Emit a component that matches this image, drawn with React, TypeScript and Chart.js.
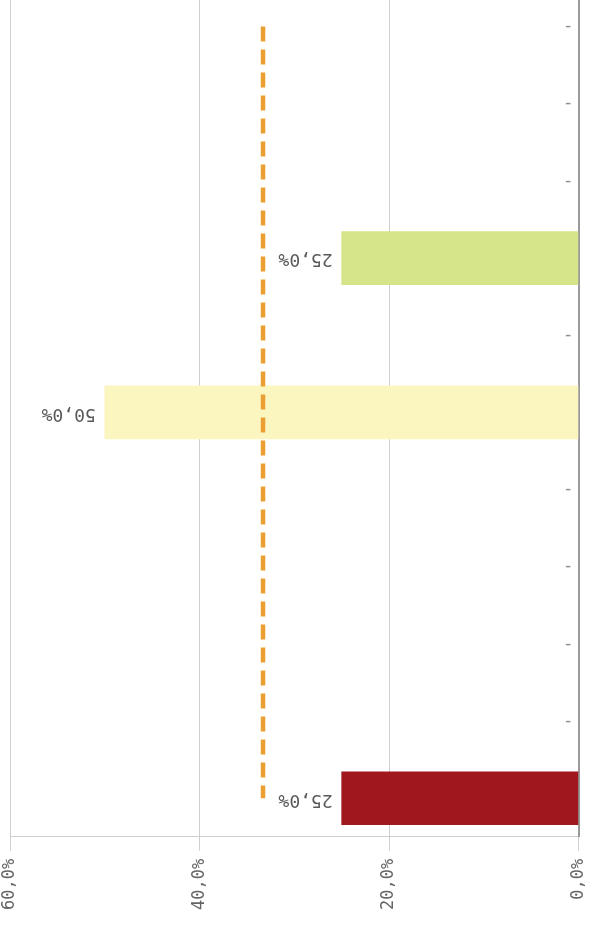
import React, { useEffect, useRef } from "react";
import { Chart, registerables } from "chart.js";

Chart.register(...registerables);

const categories: string[] = ["-", "-", "-", "-", "-", "-", "-", "-", "-", "-", "-"];
const shareValues: (number | null)[] = [null, null, null, 25, null, 50, null, null, null, null, 25];
const barColors: string[] = [
  "#d6e48a", "#d6e48a", "#d6e48a", "#d6e48a", "#d6e48a",
  "#fbf6c0", "#fbf6c0", "#fbf6c0", "#fbf6c0", "#fbf6c0",
  "#a0181e",
];
const averageLine: number[] = [33.3, 33.3, 33.3, 33.3, 33.3, 33.3, 33.3, 33.3, 33.3, 33.3, 33.3];
const axisMin = 0;
const axisMax = 60;
const axisStep = 20;

const fmt = (v: number) => v.toFixed(1).replace(".", ",") + "%";

const MONO = "'DejaVu Sans Mono', monospace";

const categoryDashes = {
  id: "categoryDashes",
  beforeDatasetsDraw(chart: any) {
    const yScale = chart.scales.y;
    const area = chart.chartArea;
    const ctx = chart.ctx;
    ctx.save();
    ctx.fillStyle = "#8f8f8f";
    ctx.font = `18px ${MONO}`;
    ctx.textAlign = "right";
    ctx.textBaseline = "middle";
    categories.forEach((c, i) => {
      ctx.fillText(c, area.right - 5, yScale.getPixelForValue(i));
    });
    ctx.restore();
  },
};

const upsideDownLabels = {
  id: "upsideDownLabels",
  afterDatasetsDraw(chart: any) {
    const meta = chart.getDatasetMeta(0);
    const ctx = chart.ctx;
    ctx.save();
    ctx.fillStyle = "#5a5a5a";
    ctx.font = `18px ${MONO}`;
    ctx.textAlign = "left";
    ctx.textBaseline = "middle";
    meta.data.forEach((bar: any, i: number) => {
      const v = shareValues[i];
      if (v == null) return;
      ctx.save();
      ctx.translate(bar.x - 9, bar.y + 1);
      ctx.rotate(Math.PI);
      ctx.fillText(fmt(v), 0, 0);
      ctx.restore();
    });
    ctx.restore();
  },
};

export default function App() {
  const ref = useRef<HTMLCanvasElement | null>(null);
  useEffect(() => {
    if (!ref.current) return;
    const chart = new Chart(ref.current, {
      type: "bar",
      data: {
        labels: categories,
        datasets: [
          {
            type: "bar",
            data: shareValues,
            backgroundColor: barColors,
            barThickness: 53,
            order: 2,
          } as any,
          {
            type: "line",
            data: averageLine,
            borderColor: "#eb9f32",
            borderWidth: 4.5,
            borderDash: [15, 8],
            pointRadius: 0,
            fill: false,
            order: 1,
          } as any,
        ],
      },
      plugins: [categoryDashes, upsideDownLabels],
      options: {
        indexAxis: "y",
        animation: false,
        responsive: false,
        layout: { padding: { left: 10, right: 0, top: 0, bottom: 22 } },
        plugins: {
          legend: { display: false },
          tooltip: { enabled: false },
        },
        scales: {
          x: {
            type: "linear",
            reverse: true,
            min: axisMin,
            max: axisMax,
            position: "bottom",
            ticks: {
              stepSize: axisStep,
              minRotation: 90,
              maxRotation: 90,
              padding: 8,
              color: "#666",
              font: { family: MONO, size: 17 },
              callback: (v: any) => fmt(Number(v)),
            },
            grid: { color: "#cfcfcf", lineWidth: 1, tickLength: 14 },
            border: { display: true, color: "#cfcfcf", width: 1 },
          },
          y: {
            position: "right",
            offset: true,
            ticks: { display: false },
            grid: { display: false, drawTicks: false },
            border: { display: true, color: "#9a9a9a", width: 2 },
          },
        },
      } as any,
    });
    return () => chart.destroy();
  }, []);
  return (
    <div style={{ position: "fixed", left: 0, top: 0, width: 593, height: 940, overflow: "hidden" }}>
      <div style={{ position: "absolute", left: 0, top: -12, width: 607, height: 952 }}>
        <canvas ref={ref} width={607} height={952} />
      </div>
    </div>
  );
}
